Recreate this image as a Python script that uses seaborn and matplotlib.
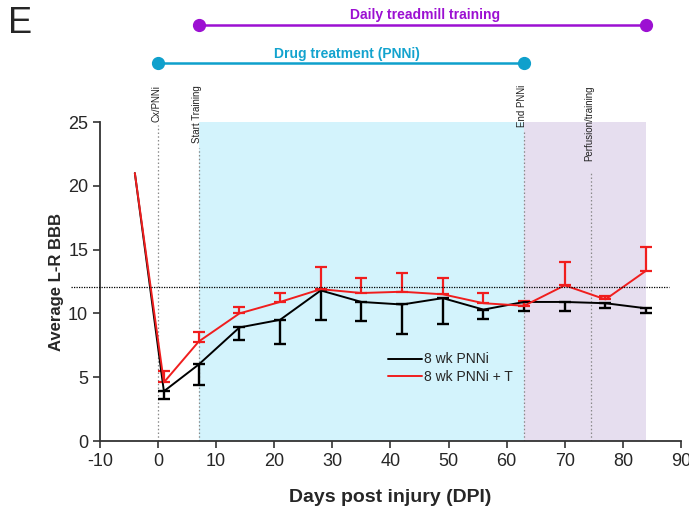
import pandas as pd
import seaborn as sns
import matplotlib.pyplot as plt

# Data
days = [-4, 1, 7, 14, 21, 28, 35, 42, 49, 56, 63, 70, 77, 84]
pnni_mean = [21.0, 3.9, 6.0, 8.9, 9.5, 11.8, 10.9, 10.7, 11.2, 10.3, 10.9, 10.9, 10.8, 10.4]
pnni_err = [0, 0.6, 1.6, 1.0, 1.9, 2.35, 1.5, 2.35, 2.0, 0.7, 0.7, 0.7, 0.4, 0.4]
pnni_t_mean = [21.0, 4.6, 7.8, 10.0, 10.9, 11.9, 11.6, 11.7, 11.5, 10.8, 10.6, 12.2, 11.1, 13.35]
pnni_t_err = [0, 0.9, 0.75, 0.5, 0.7, 1.7, 1.2, 1.5, 1.25, 0.8, 0.4, 1.8, 0.3, 1.85]
group_names = ['8 wk PNNi', '8 wk PNNi + T']

event_days = [0, 7, 63, 74.5]
event_labels = ['Cx/PNNi', 'Start Training', 'End PNNi', 'Perfusion/training']
event_line_tops = [24.8, 23.0, 24.3, 21.2]

drug_period = [0, 63]
training_period = [7, 84]
baseline_level = 12.1

df = pd.DataFrame({
    'Day': days * 2,
    'BBB': pnni_mean + pnni_t_mean,
    'Group': [group_names[0]] * len(days) + [group_names[1]] * len(days),
})

sns.set_style('ticks')
plt.rcParams['font.family'] = ['Liberation Sans', 'DejaVu Sans']
plt.rcParams['axes.unicode_minus'] = False

fig = plt.figure(figsize=(6.89, 5.18), dpi=100)
ax = fig.add_axes([0.1451, 0.1486, 0.8433, 0.6158])

# shaded periods
ax.axvspan(training_period[0], drug_period[1], color='#D3F3FC', lw=0, zorder=0)
ax.axvspan(drug_period[1], training_period[1], color='#E6DEEF', lw=0, zorder=0)

# event lines and labels
for d, lab, top in zip(event_days, event_labels, event_line_tops):
    ax.plot([d, d], [0, top], ls=(0, (1.2, 1.8)), color='#8a8a8a', lw=0.9, zorder=1)
    ax.text(d - 0.3, 27.9, lab, rotation=90, ha='center', va='top', fontsize=7,
            color='#222222', clip_on=False)

# error bars (one sided, skip the pre-injury point)
ax.errorbar(days[1:], pnni_mean[1:], yerr=[pnni_err[1:], [0] * (len(days) - 1)], fmt='none',
            ecolor='black', elinewidth=1.7, capsize=4, capthick=1.7, zorder=3)
ax.errorbar(days[1:], pnni_t_mean[1:], yerr=[[0] * (len(days) - 1), pnni_t_err[1:]], fmt='none',
            ecolor='#F01E1E', elinewidth=1.6, capsize=4, capthick=1.6, zorder=4)

sns.lineplot(data=df, x='Day', y='BBB', hue='Group', palette=['black', '#F01E1E'],
             lw=1.4, ax=ax, zorder=5)

# baseline dotted line
ax.plot([-15, 88], [baseline_level, baseline_level], ls=(0, (1, 1)), color='black',
        lw=0.9, clip_on=False, zorder=6)

# treatment bars above the plot
ax.plot(drug_period, [29.6, 29.6], color='#0FA0CC', lw=1.8, marker='o', ms=8.5, clip_on=False)
ax.text(sum(drug_period) / 2 + 1, 30.3, 'Drug treatment (PNNi)', color='#13A3CE',
        fontsize=10, fontweight='bold', ha='center', va='center')
ax.plot(training_period, [32.6, 32.6], color='#9C10D2', lw=1.8, marker='o', ms=8.5, clip_on=False)
ax.text(sum(training_period) / 2 + 0.5, 33.4, 'Daily treadmill training', color='#9C10D2',
        fontsize=10, fontweight='bold', ha='center', va='center')

ax.set_xlim(-10, 90)
ax.set_ylim(0, 25)
ax.set_xticks(range(-10, 91, 10))
ax.set_yticks(range(0, 26, 5))
ax.tick_params(labelsize=13, length=5, width=1.2, color='#333333', direction='out')
for s in ['left', 'bottom']:
    ax.spines[s].set_linewidth(1.3)
    ax.spines[s].set_color('#333333')
sns.despine(ax=ax)

ax.set_xlabel('Days post injury (DPI)', fontsize=14, fontweight='bold', labelpad=14)
ax.set_ylabel('Average L-R BBB', fontsize=12, fontweight='bold', labelpad=3)

ax.legend(loc='upper left', bbox_to_anchor=(0.487, 0.295), frameon=False, fontsize=10,
          handlelength=2.4, handletextpad=0.15, labelspacing=0.25, borderaxespad=0)

fig.text(0.012, 0.988, 'E', fontsize=26, va='top', ha='left')

fig.savefig('out.png', dpi=100)
